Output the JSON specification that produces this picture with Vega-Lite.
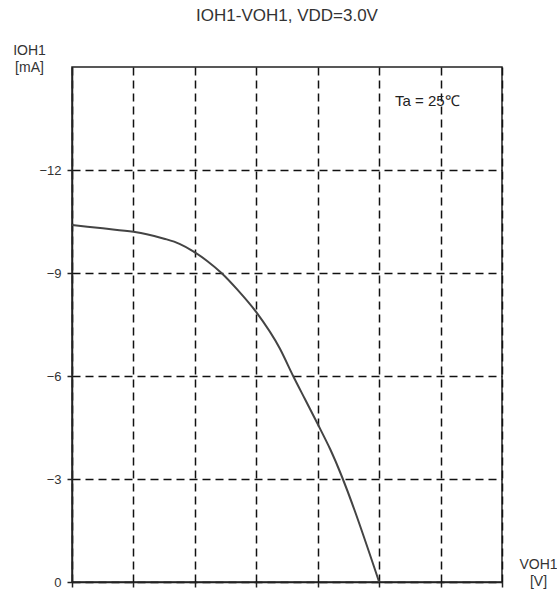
{
  "$schema": "https://vega.github.io/schema/vega-lite/v6.json",
  "autosize": "none",
  "padding": {"left": 72, "top": 67, "right": 55, "bottom": 12},
  "width": 430,
  "height": 515,
  "background": "white",
  "title": {
    "text": "IOH1-VOH1, VDD=3.0V",
    "fontSize": 17,
    "fontWeight": "normal",
    "font": "Liberation Sans",
    "color": "#333333",
    "anchor": "middle",
    "offset": 30,
    "dy": 12
  },
  "config": {
    "view": {"stroke": "#222222", "strokeWidth": 1.5},
    "font": "Liberation Sans"
  },
  "datasets": {
    "curve": [
      {"v": 0.0, "i": -10.4},
      {"v": 0.3, "i": -10.3},
      {"v": 0.6, "i": -10.2},
      {"v": 0.73, "i": -10.13},
      {"v": 0.9, "i": -10.0},
      {"v": 1.05, "i": -9.85},
      {"v": 1.18, "i": -9.64},
      {"v": 1.32, "i": -9.35},
      {"v": 1.46, "i": -9.0},
      {"v": 1.62, "i": -8.5},
      {"v": 1.8, "i": -7.86},
      {"v": 2.03, "i": -6.8},
      {"v": 2.16, "i": -6.0},
      {"v": 2.28, "i": -5.3},
      {"v": 2.4, "i": -4.6},
      {"v": 2.52, "i": -3.88},
      {"v": 3.0, "i": 0.0}
    ],
    "note": [
      {"v": 3.47, "i": -14.0, "label": "Ta = 25℃"}
    ]
  },
  "layer": [
    {
      "data": {"name": "curve"},
      "mark": {"type": "line", "color": "#444444", "strokeWidth": 2, "interpolate": "monotone"},
      "encoding": {
        "x": {
          "field": "v", "type": "quantitative",
          "scale": {"domain": [0, 4.2], "nice": false, "zero": false},
          "axis": {
            "values": [0, 0.6, 1.2, 1.8, 2.4, 3.0, 3.6, 4.2],
            "labels": false,
            "grid": true,
            "gridColor": "#111111",
            "gridDash": [8, 5],
            "gridWidth": 1.5,
            "gridOpacity": 1,
            "domainColor": "#222222",
            "domainWidth": 1.5,
            "tickColor": "#222222",
            "tickWidth": 1.5,
            "tickSize": 5,
            "title": ["VOH1", "[V]"],
            "titleAngle": 0,
            "titleX": 466,
            "titleY": -18,
            "titleAlign": "center",
            "titleBaseline": "middle",
            "titleFontSize": 14,
            "titleFontWeight": "normal",
            "titleColor": "#333333",
            "titleLineHeight": 17
          }
        },
        "y": {
          "field": "i", "type": "quantitative",
          "scale": {"domain": [0, -15], "nice": false, "zero": false},
          "axis": {
            "values": [0, -3, -6, -9, -12],
            "format": "d",
            "grid": true,
            "gridColor": "#111111",
            "gridDash": [8, 5],
            "gridWidth": 1.5,
            "gridOpacity": 1,
            "domainColor": "#222222",
            "domainWidth": 1.5,
            "tickColor": "#222222",
            "tickWidth": 1.5,
            "tickSize": 5,
            "labelFontSize": 13,
            "labelColor": "#333333",
            "labelPadding": 6,
            "title": ["IOH1", "[mA]"],
            "titleAngle": 0,
            "titleX": -43,
            "titleY": -10,
            "titleAlign": "center",
            "titleBaseline": "bottom",
            "titleFontSize": 14,
            "titleFontWeight": "normal",
            "titleColor": "#333333",
            "titleLineHeight": 17
          }
        }
      }
    },
    {
      "data": {"name": "note"},
      "mark": {"type": "text", "fontSize": 15, "color": "#222222", "align": "center", "baseline": "middle"},
      "encoding": {
        "x": {"field": "v", "type": "quantitative"},
        "y": {"field": "i", "type": "quantitative"},
        "text": {"field": "label"}
      }
    }
  ]
}
